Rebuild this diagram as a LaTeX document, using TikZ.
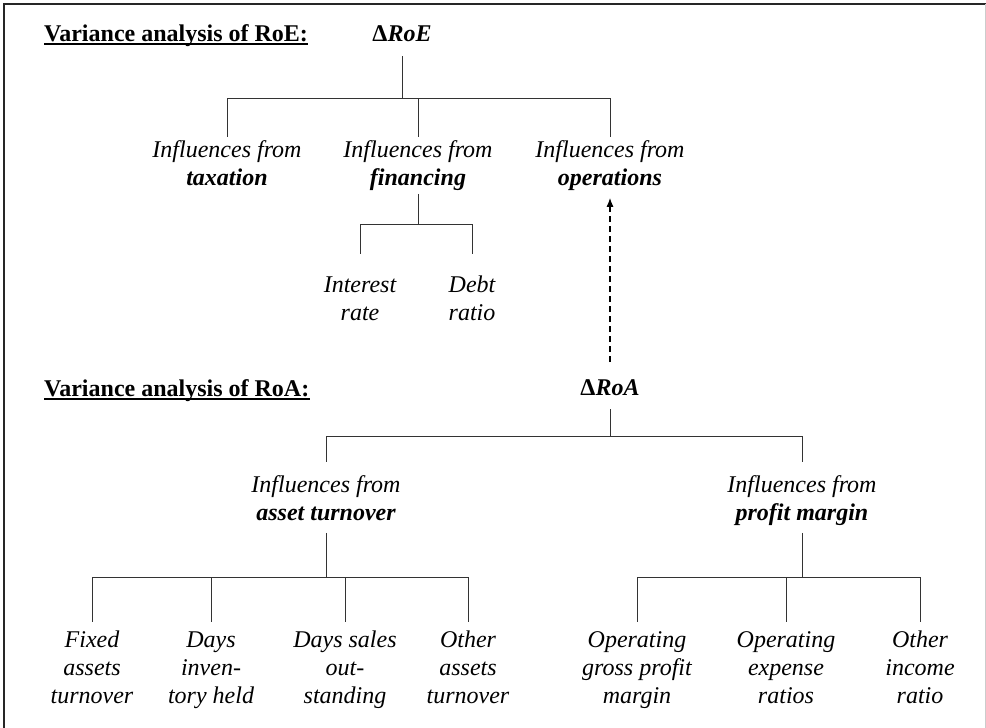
\documentclass[tikz,border=0pt]{standalone}
\usepackage{fontspec}
\setmainfont{Liberation Serif}
\usetikzlibrary{arrows.meta}
\begin{document}
\begin{tikzpicture}[x=1pt,y=-1pt,
  txt/.style={inner sep=0pt, font=\fontsize{24}{28}\selectfont},
  box/.style={inner sep=0pt, align=center, anchor=north, font=\fontsize{24}{28}\selectfont\itshape},
  tree/.style={draw=black!80, line width=1pt},
  frameline/.style={draw=black!85, line width=2pt},
  ulline/.style={draw=black, line width=1.4pt}]
\useasboundingbox (0,0) rectangle (986,728);
% frame
\draw[frameline] (4,728) -- (4,4) -- (986,4);
\draw[draw=black!20, line width=1pt] (985,4) -- (985,728);

% titles
\node[txt, anchor=base west, font=\fontsize{24}{28}\selectfont\bfseries] (t1) at (44,41) {Variance analysis of RoE:};
\draw[ulline] ([yshift=-3pt]t1.base west) -- ([yshift=-3pt]t1.base east);
\node[txt, anchor=base west, font=\fontsize{24}{28}\selectfont\bfseries] (t2) at (44,396) {Variance analysis of RoA:};
\draw[ulline] ([yshift=-3pt]t2.base west) -- ([yshift=-3pt]t2.base east);

% RoE tree
\node[txt, anchor=base] (roe) at (402,41) {\textbf{Δ\textit{RoE}}};
\node[box] (tax) at (227,137.4) {\strut Influences from\\\strut\textbf{taxation}};
\node[box] (fin) at (418,137.4) {\strut Influences from\\\strut\textbf{financing}};
\node[box] (ops) at (610,137.4) {\strut Influences from\\\strut\textbf{operations}};
\node[box] (int) at (360,272.4) {\strut Interest\\\strut rate};
\node[box] (debt) at (472,272.4) {\strut Debt\\\strut ratio};
\coordinate (jroe) at (402,98);
\coordinate (jfin) at (418,224);
\draw[tree] ([yshift=-15pt]roe.base) -- (jroe);
\draw[tree] (jroe) -| (tax.north);
\draw[tree] (jroe) -| (fin.north);
\draw[tree] (jroe) -| (ops.north);
\draw[tree] (fin.south) -- (jfin);
\draw[tree] (jfin) -| ([yshift=18pt]int.north);
\draw[tree] (jfin) -| ([yshift=18pt]debt.north);

% RoA tree
\node[txt, anchor=base] (roa) at (610,395) {\textbf{Δ\textit{RoA}}};
\draw[draw=black, line width=1.2pt, dash pattern=on 6pt off 4pt, -{Latex[length=9pt,width=7pt]}]
  ([yshift=33pt]roa.base) -- ([yshift=-4pt]ops.south);
\node[box] (at) at (326,472.4) {\strut Influences from\\\strut\textbf{asset turnover}};
\node[box] (pm) at (802,472.4) {\strut Influences from\\\strut\textbf{profit margin}};
\coordinate (jroa) at (610,436);
\draw[tree] ([yshift=-14pt]roa.base) -- (jroa);
\draw[tree] (jroa) -| ([yshift=10pt]at.north);
\draw[tree] (jroa) -| ([yshift=10pt]pm.north);

% leaves
\node[box] (l1) at (92,627.4) {\strut Fixed\\\strut assets\\\strut turnover};
\node[box] (l2) at (211,627.4) {\strut Days\\\strut inven-\\\strut tory held};
\node[box] (l3) at (345,627.4) {\strut Days sales\\\strut out-\\\strut standing};
\node[box] (l4) at (468,627.4) {\strut Other\\\strut assets\\\strut turnover};
\node[box] (l5) at (637,627.4) {\strut Operating\\\strut gross profit\\\strut margin};
\node[box] (l6) at (786,627.4) {\strut Operating\\\strut expense\\\strut ratios};
\node[box] (l7) at (920,627.4) {\strut Other\\\strut income\\\strut ratio};
\coordinate (jat) at (326,577);
\coordinate (jpm) at (802,577);
\draw[tree] ([yshift=-4pt]at.south) -- (jat);
\draw[tree] ([yshift=-4pt]pm.south) -- (jpm);
\foreach \n in {l1,l2,l3,l4}{\draw[tree] (jat) -| ([yshift=5pt]\n.north);}
\foreach \n in {l5,l6,l7}{\draw[tree] (jpm) -| ([yshift=5pt]\n.north);}
\end{tikzpicture}
\end{document}
